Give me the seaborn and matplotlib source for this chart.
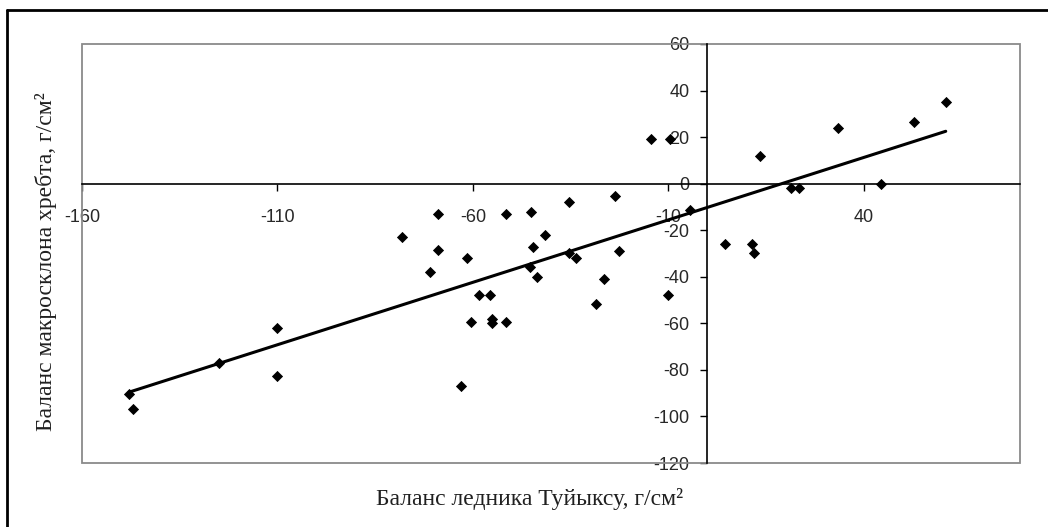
import numpy as np
import pandas as pd
import matplotlib
matplotlib.use("Agg")
import matplotlib.pyplot as plt
from matplotlib.lines import Line2D
from matplotlib.patches import Rectangle
import seaborn as sns

# Balance of Tuyuksu glacier vs. balance of the ridge macroslope (g/cm2)
glacier_balance = [-148, -147, -125, -110, -110, -78, -71, -69, -69, -61.5,
                   -63, -60.5, -58.5, -55.5, -55, -55, -51.5, -51.5, -45, -45.5,
                   -44.5, -43.5, -41.5, -35.5, -35.5, -33.5, -28.5, -26.5, -23.5, -22.5,
                   -14.5, -10, -9.5, -4.5, 4.5, 11.5, 12, 13.5, 21.5, 23.5,
                   33.5, 44.5, 53, 61]
slope_balance = [-90.5, -97, -77, -62, -82.5, -23, -38, -13, -28.5, -32,
                 -87, -59.5, -48, -48, -58, -60, -59.5, -13, -12, -36,
                 -27, -40, -22, -8, -30, -32, -51.5, -41, -5.5, -29,
                 19, -48, 19, -11.5, -26, -26, -30, 12, -2, -2,
                 24, 0, 26.5, 35]

x_ticks = [-160, -110, -60, -10, 40]
y_ticks = [-120, -100, -80, -60, -40, -20, 0, 20, 40, 60]

df = pd.DataFrame({"glacier": glacier_balance, "slope": slope_balance})

sns.set_style("white")
plt.rcParams["font.family"] = ["Liberation Sans", "DejaVu Sans"]
plt.rcParams["axes.unicode_minus"] = False

fig = plt.figure(figsize=(10.48, 5.27), dpi=100)
ax = fig.add_axes([82 / 1048, 1 - 463 / 527, 938 / 1048, 419 / 527])

sns.regplot(data=df, x="glacier", y="slope", ax=ax, ci=None, marker="D",
            scatter_kws={"s": 26, "color": "black", "alpha": 1, "edgecolor": "black",
                         "linewidths": 0.6, "zorder": 4},
            line_kws={"color": "black", "lw": 2.2, "zorder": 3})

ax.set_xlim(-160, 80)
ax.set_ylim(-120, 60)
ax.set_xticks(x_ticks)
ax.set_yticks(y_ticks)

# axes cross at the origin, Excel style
for side in ["left", "bottom"]:
    ax.spines[side].set_position(("data", 0))
    ax.spines[side].set_color("black")
    ax.spines[side].set_linewidth(1.2)
    ax.spines[side].set_zorder(2)
for side in ["top", "right"]:
    ax.spines[side].set_visible(False)

# gray plot-area border
ax.add_patch(Rectangle((0, 0), 1, 1, transform=ax.transAxes, fill=False,
                       edgecolor="#8a8a8a", lw=1.3, clip_on=False, zorder=1))

ax.tick_params(axis="x", direction="out", length=5, width=1, color="black",
               pad=13, labelsize=13, labelcolor="#282828", bottom=True)
ax.tick_params(axis="y", direction="out", length=5, width=1, color="black",
               pad=8, labelsize=13, labelcolor="#282828", left=True)

ax.set_xlabel("Баланс ледника Туйыксу, г/см²", fontsize=17,
              family=["Liberation Serif", "DejaVu Serif"], color="#202020")
ax.set_ylabel("Баланс макросклона хребта, г/см²", fontsize=17,
              family=["Liberation Serif", "DejaVu Serif"], color="#202020")
ax.xaxis.set_label_coords(0.4776, -0.060)
ax.yaxis.set_label_coords(-0.027, 0.48)

# outer frame (left and top edges visible)
fig.add_artist(Line2D([7 / 1048, 7 / 1048], [0, 1 - 10 / 527], color="black", lw=2))
fig.add_artist(Line2D([7 / 1048, 1], [1 - 10 / 527, 1 - 10 / 527], color="black", lw=2))

fig.savefig("out.png", dpi=100, facecolor="white")
